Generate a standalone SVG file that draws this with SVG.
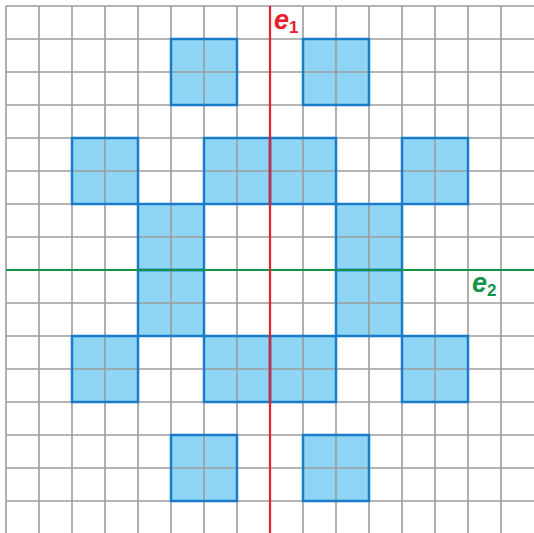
<svg xmlns="http://www.w3.org/2000/svg" xmlns:xlink="http://www.w3.org/1999/xlink" width="534" height="533" viewBox="0 0 534 533">
<defs>
<style>
.sq{fill:#8fd6f6;stroke:none}
.sqo{fill:none;stroke:#1a7cc8;stroke-width:2.5}
.g{stroke:#9c9c9c;stroke-width:1.6}
.lbl{font-family:"Liberation Sans",Arial,sans-serif;font-weight:bold;font-style:italic}
</style>
<g id="squares">
<rect x="171" y="39" width="66" height="66"/>
<rect x="303" y="39" width="66" height="66"/>
<rect x="72" y="138" width="66" height="66"/>
<rect x="204" y="138" width="66" height="66"/>
<rect x="270" y="138" width="66" height="66"/>
<rect x="402" y="138" width="66" height="66"/>
<rect x="138" y="204" width="66" height="66"/>
<rect x="138" y="270" width="66" height="66"/>
<rect x="336" y="204" width="66" height="66"/>
<rect x="336" y="270" width="66" height="66"/>
<rect x="72" y="336" width="66" height="66"/>
<rect x="204" y="336" width="66" height="66"/>
<rect x="270" y="336" width="66" height="66"/>
<rect x="402" y="336" width="66" height="66"/>
<rect x="171" y="435" width="66" height="66"/>
<rect x="303" y="435" width="66" height="66"/>
</g>
</defs>
<rect width="534" height="533" fill="#ffffff"/>
<use xlink:href="#squares" class="sq"/>
<g id="grid" class="g">
<line x1="6" y1="6" x2="6" y2="533"/>
<line x1="39" y1="6" x2="39" y2="533"/>
<line x1="72" y1="6" x2="72" y2="533"/>
<line x1="105" y1="6" x2="105" y2="533"/>
<line x1="138" y1="6" x2="138" y2="533"/>
<line x1="171" y1="6" x2="171" y2="533"/>
<line x1="204" y1="6" x2="204" y2="533"/>
<line x1="237" y1="6" x2="237" y2="533"/>
<line x1="303" y1="6" x2="303" y2="533"/>
<line x1="336" y1="6" x2="336" y2="533"/>
<line x1="369" y1="6" x2="369" y2="533"/>
<line x1="402" y1="6" x2="402" y2="533"/>
<line x1="435" y1="6" x2="435" y2="533"/>
<line x1="468" y1="6" x2="468" y2="533"/>
<line x1="501" y1="6" x2="501" y2="533"/>
<line x1="6" y1="6" x2="534" y2="6"/>
<line x1="6" y1="39" x2="534" y2="39"/>
<line x1="6" y1="72" x2="534" y2="72"/>
<line x1="6" y1="105" x2="534" y2="105"/>
<line x1="6" y1="138" x2="534" y2="138"/>
<line x1="6" y1="171" x2="534" y2="171"/>
<line x1="6" y1="204" x2="534" y2="204"/>
<line x1="6" y1="237" x2="534" y2="237"/>
<line x1="6" y1="303" x2="534" y2="303"/>
<line x1="6" y1="336" x2="534" y2="336"/>
<line x1="6" y1="369" x2="534" y2="369"/>
<line x1="6" y1="402" x2="534" y2="402"/>
<line x1="6" y1="435" x2="534" y2="435"/>
<line x1="6" y1="468" x2="534" y2="468"/>
<line x1="6" y1="501" x2="534" y2="501"/>
</g>
<use xlink:href="#squares" class="sqo"/>
<g id="axes">
<line x1="6" y1="270" x2="534" y2="270" stroke="#14934a" stroke-width="2.2"/>
<line x1="270" y1="6" x2="270" y2="533" stroke="#e8202b" stroke-width="2.2"/>
</g>
<g id="labels" class="lbl">
<text x="274" y="29" font-size="27" fill="#e8202b">e<tspan font-size="17" font-style="normal" dy="4">1</tspan></text>
<text x="472" y="292" font-size="27" fill="#14934a">e<tspan font-size="17" font-style="normal" dy="4">2</tspan></text>
</g>
</svg>
